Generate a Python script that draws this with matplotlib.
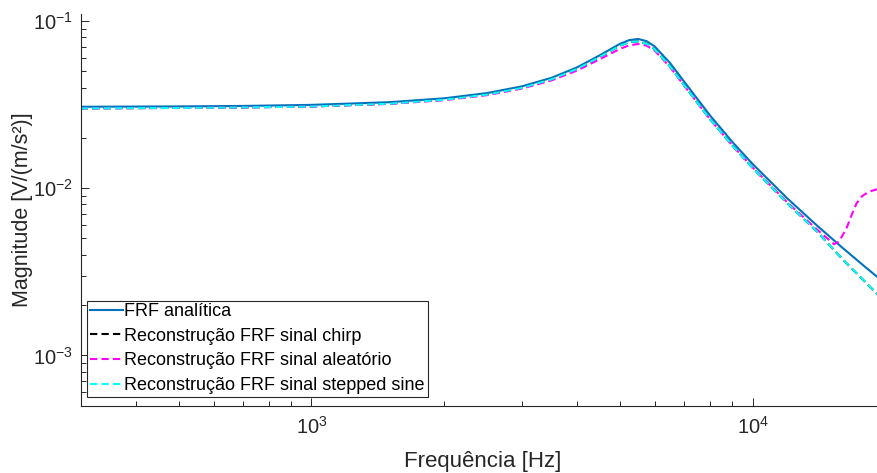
import matplotlib
matplotlib.use('Agg')
import matplotlib.pyplot as plt
from matplotlib.ticker import LogLocator, NullFormatter

plt.rcParams['font.family'] = ['Liberation Sans', 'DejaVu Sans']
plt.rcParams['axes.unicode_minus'] = False

# frequências (Hz) e magnitudes
freq = [300, 500, 700, 1000, 1500, 2000, 2500, 3000, 3500, 4000, 4500, 5000,
        5250, 5500, 5750, 6000, 6500, 7000, 8000, 9000, 10000, 12000, 14000,
        16000, 18000, 20000]

frf_analitica = [0.03068, 0.03082, 0.03103, 0.03149, 0.03267, 0.03446, 0.03703,
                 0.04064, 0.04570, 0.05276, 0.06225, 0.07288, 0.07680, 0.07805,
                 0.07576, 0.07040, 0.05603, 0.04330, 0.02731, 0.01888, 0.01395,
                 0.00866, 0.00597, 0.00439, 0.003377, 0.002685]

frf_stepped = [0.0300, 0.0302, 0.0304, 0.0308, 0.0320, 0.0338, 0.0363, 0.0398,
               0.0448, 0.0517, 0.0610, 0.0711, 0.0747, 0.0755, 0.0730, 0.0676,
               0.0535, 0.0412, 0.0259, 0.0180, 0.0132, 0.0081, 0.00550, 0.00375,
               0.00275, 0.00207]

# chirp coincide com o stepped sine (fica por baixo)
frf_chirp = list(frf_stepped)

freq_aleat = [300, 500, 700, 1000, 1500, 2000, 2500, 3000, 3500, 4000, 4500,
              5000, 5250, 5500, 5750, 6000, 6500, 7000, 8000, 9000, 10000,
              12000, 14000, 15300, 15700, 16300, 16800, 17200, 17700, 18300,
              19000, 20000]
frf_aleat = [0.0300, 0.0302, 0.0304, 0.0308, 0.0319, 0.0336, 0.0360, 0.0394,
             0.0441, 0.0505, 0.0590, 0.0680, 0.0715, 0.0728, 0.0712, 0.0665,
             0.0530, 0.0410, 0.0259, 0.0180, 0.0133, 0.0082, 0.00565, 0.00462,
             0.00480, 0.00570, 0.00700, 0.00810, 0.00895, 0.00950, 0.00980,
             0.0100]

labels = ['FRF analítica',
          'Reconstrução FRF sinal chirp',
          'Reconstrução FRF sinal aleatório',
          'Reconstrução FRF sinal stepped sine']

AX_COLOR = '#262626'
DASH = (0, (3.5, 2.0))

fig = plt.figure(figsize=(8.77, 4.73), dpi=100)
ax = fig.add_axes([0.092, 0.1423, 0.9176, 0.828])

ax.plot(freq, frf_analitica, color='#0072BD', lw=1.5, label=labels[0])
ax.plot(freq, frf_chirp, color='black', lw=1.5, linestyle=DASH, label=labels[1])
ax.plot(freq_aleat, frf_aleat, color='#FF00FF', lw=1.5, linestyle=DASH, label=labels[2])
ax.plot(freq, frf_stepped, color='#00FFFF', lw=1.5, linestyle=DASH, label=labels[3])

ax.set_xscale('log')
ax.set_yscale('log')
ax.set_xlim(300, 20000)
ax.set_ylim(5e-4, 0.11)

ax.xaxis.set_minor_locator(LogLocator(base=10, subs=range(2, 10), numticks=20))
ax.yaxis.set_minor_locator(LogLocator(base=10, subs=range(2, 10), numticks=20))
ax.xaxis.set_minor_formatter(NullFormatter())
ax.yaxis.set_minor_formatter(NullFormatter())

ax.spines['top'].set_visible(False)
ax.spines['right'].set_visible(False)
for s in ['left', 'bottom']:
    ax.spines[s].set_color(AX_COLOR)
    ax.spines[s].set_linewidth(0.8)

ax.tick_params(which='both', direction='in', colors=AX_COLOR, width=0.7, labelsize=14.5)
ax.tick_params(which='major', length=6)
ax.tick_params(which='minor', length=3.5)
ax.tick_params(axis='y', pad=5.5)
ax.tick_params(axis='x', pad=7)

ax.set_xlabel('Frequência [Hz]', fontsize=16, color=AX_COLOR, labelpad=9.5)
ax.set_ylabel('Magnitude [V/(m/s²)]', fontsize=15.5, color=AX_COLOR, labelpad=0)

leg = ax.legend(loc='lower left', bbox_to_anchor=(0.0082, 0.023), borderaxespad=0,
                fontsize=13, handlelength=1.85, handletextpad=0.05,
                labelspacing=0.42, borderpad=0.15, fancybox=False,
                edgecolor=AX_COLOR, framealpha=1)
leg.get_frame().set_linewidth(0.8)
for t in leg.get_texts():
    t.set_color('black')

fig.savefig('out.png', dpi=100)
